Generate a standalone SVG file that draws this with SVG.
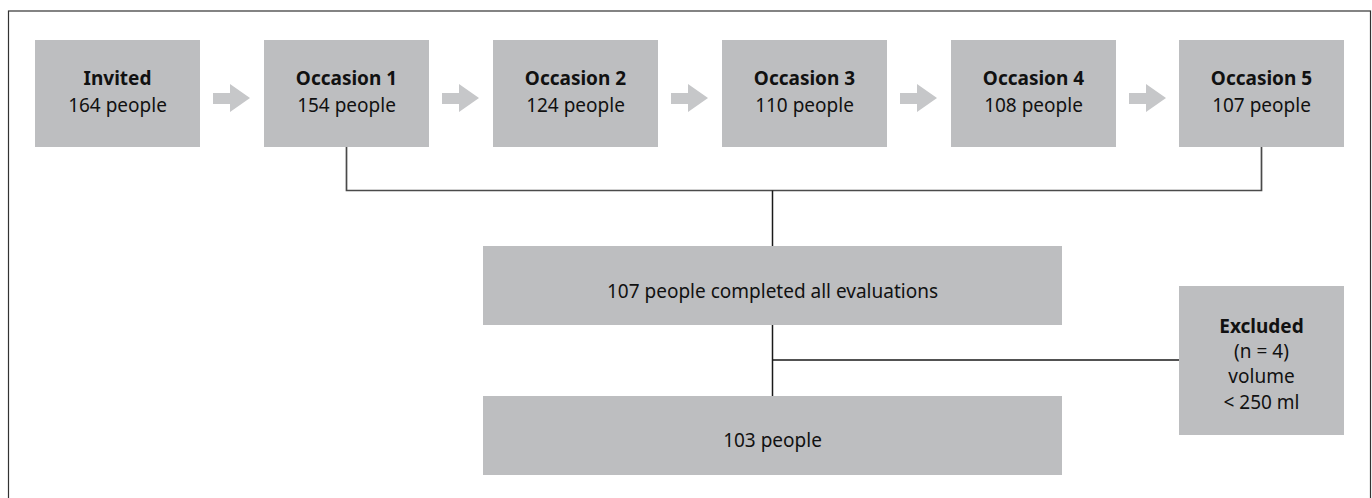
<svg xmlns="http://www.w3.org/2000/svg" width="1372" height="498" viewBox="0 0 1372 498">
<style>
.box{fill:#bdbec0}
.arrow{fill:#c6c7c9}
text{font-family:"Noto Sans","Liberation Sans",sans-serif;font-size:19px;fill:#111;text-anchor:middle}
.b{font-weight:bold}
.conn{fill:none;stroke:#1a1a1a;stroke-width:1.5}
.conn2{fill:none;stroke:#4a4a4a;stroke-width:1.7}
</style>
<defs>
<path id="arr" class="arrow" d="M0,93 H17 V84 L37,98 L17,112 V104 H0 Z"/>
</defs>
<rect x="8.5" y="11" width="1362" height="500" fill="#fff" stroke="#333" stroke-width="1.2"/>
<g id="connectors">
<path class="conn2" d="M346.5,147 V190.5 H1261.5 V147"/>
<path class="conn" d="M772.5,190.5 V246"/>
<path class="conn" d="M772.5,325 V396 M772.5,360 H1179"/>
<use href="#arr" x="213"/>
<use href="#arr" x="442"/>
<use href="#arr" x="671"/>
<use href="#arr" x="900"/>
<use href="#arr" x="1129"/>
</g>
<g id="invited"><rect class="box" x="35" y="40" width="165" height="107"/><text class="b" x="117.5" y="85">Invited</text><text x="117.5" y="112">164 people</text></g>
<g id="occ1"><rect class="box" x="264" y="40" width="165" height="107"/><text class="b" x="346.5" y="85">Occasion 1</text><text x="346.5" y="112">154 people</text></g>
<g id="occ2"><rect class="box" x="493" y="40" width="165" height="107"/><text class="b" x="575.5" y="85">Occasion 2</text><text x="575.5" y="112">124 people</text></g>
<g id="occ3"><rect class="box" x="722" y="40" width="165" height="107"/><text class="b" x="804.5" y="85">Occasion 3</text><text x="804.5" y="112">110 people</text></g>
<g id="occ4"><rect class="box" x="951" y="40" width="165" height="107"/><text class="b" x="1033.5" y="85">Occasion 4</text><text x="1033.5" y="112">108 people</text></g>
<g id="occ5"><rect class="box" x="1179" y="40" width="165" height="107"/><text class="b" x="1261.5" y="85">Occasion 5</text><text x="1261.5" y="112">107 people</text></g>
<g id="completed"><rect class="box" x="483" y="246" width="579" height="79"/><text x="772.5" y="298">107 people completed all evaluations</text></g>
<g id="final"><rect class="box" x="483" y="396" width="579" height="79"/><text x="772.5" y="447">103 people</text></g>
<g id="excluded"><rect class="box" x="1179" y="286" width="165" height="149"/><text class="b" x="1261.5" y="333">Excluded</text><text x="1261.5" y="358">(n = 4)</text><text x="1261.5" y="383">volume</text><text x="1261.5" y="409">&lt; 250 ml</text></g>
</svg>
